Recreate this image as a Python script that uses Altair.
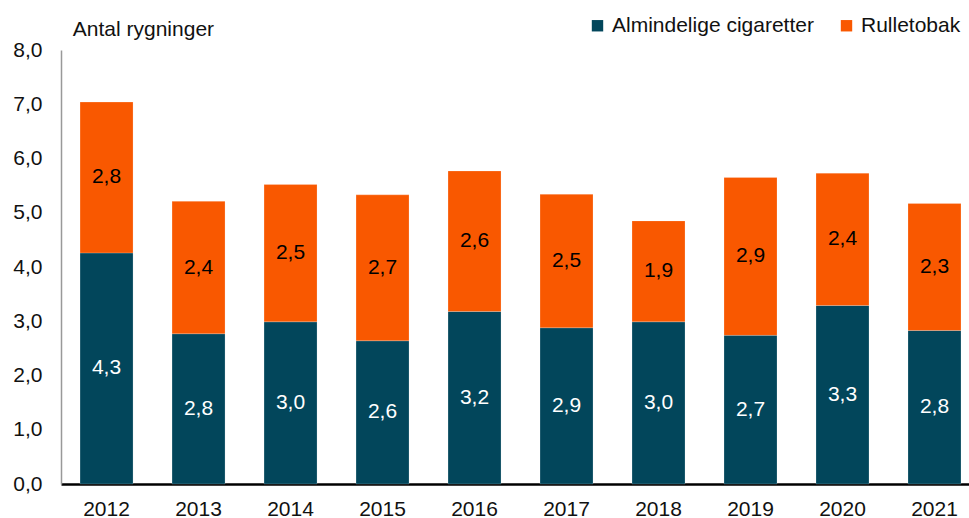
import altair as alt
import pandas as pd

years = ["2012", "2013", "2014", "2015", "2016", "2017", "2018", "2019", "2020", "2021"]
cigaretter = [4.26, 2.77, 2.99, 2.64, 3.18, 2.88, 2.99, 2.74, 3.29, 2.83]
rulletobak = [2.78, 2.44, 2.53, 2.69, 2.59, 2.46, 1.86, 2.91, 2.44, 2.34]
series = ["Almindelige cigaretter", "Rulletobak"]
colors = ["#02465B", "#F95800"]
label_colors = ["white", "black"]

rows = []
for i, y in enumerate(years):
    rows.append({"year": y, "serie": series[0], "value": cigaretter[i], "ord": 0, "lc": label_colors[0]})
    rows.append({"year": y, "serie": series[1], "value": rulletobak[i], "ord": 1, "lc": label_colors[1]})
df = pd.DataFrame(rows)

FONT = "Liberation Sans"
FS = 21

base = alt.Chart(df).transform_stack(
    stack="value", groupby=["year"], as_=["v0", "v1"], sort=[alt.SortField("ord")]
).transform_calculate(
    mid="(datum.v0 + datum.v1) / 2",
    lab="replace(format(datum.value, '.1f'), '.', ',')"
)

xenc = alt.X("year:N", title=None,
             scale=alt.Scale(paddingInner=0.424, paddingOuter=0.147, align=0.704),
             axis=alt.Axis(labelAngle=0, ticks=False, domainColor="black", domainWidth=2.5,
                           labelFontSize=FS, labelFont=FONT, labelColor="#111",
                           labelPadding=14))

bars = base.mark_bar(stroke="white", strokeWidth=0.5, strokeOpacity=0.4).encode(
    x=xenc,
    y=alt.Y("v0:Q", title=None,
            scale=alt.Scale(domain=[0, 8], nice=False),
            axis=alt.Axis(values=[0, 1, 2, 3, 4, 5, 6, 7, 8],
                          labelExpr="replace(format(datum.value, '.1f'), '.', ',')",
                          ticks=False, grid=False, domainColor="#999", domainWidth=1.5,
                          labelFontSize=FS, labelFont=FONT, labelColor="#111", labelPadding=19)),
    y2="v1:Q",
    color=alt.Color("serie:N", title=None,
                    scale=alt.Scale(domain=series, range=colors),
                    legend=alt.Legend(orient="none", legendX=526, legendY=-35, direction="horizontal",
                                      symbolType="square", symbolSize=130, symbolStrokeWidth=0,
                                      labelFontSize=FS, labelFont=FONT, labelColor="#111",
                                      labelLimit=0, columnPadding=22, labelOffset=4)),
)

texts = base.mark_text(fontSize=FS, font=FONT).encode(
    x="year:N",
    y="mid:Q",
    text="lab:N",
    color=alt.Color("lc:N", scale=None),
)

chart = alt.layer(bars, texts).properties(
    width=908, height=434,
    title=alt.TitleParams("Antal rygninger", anchor="start", dx=60, dy=38, fontSize=FS, font=FONT,
                          fontWeight="normal", color="#111", offset=13),
    autosize=alt.AutoSizeParams(type="none"),
    padding={"left": 61, "top": 50, "right": 0, "bottom": 34},
).configure_view(stroke=None).configure_axis(labelFontWeight="normal")

chart.save("out.html", embed_options={"renderer": "svg", "actions": False})
